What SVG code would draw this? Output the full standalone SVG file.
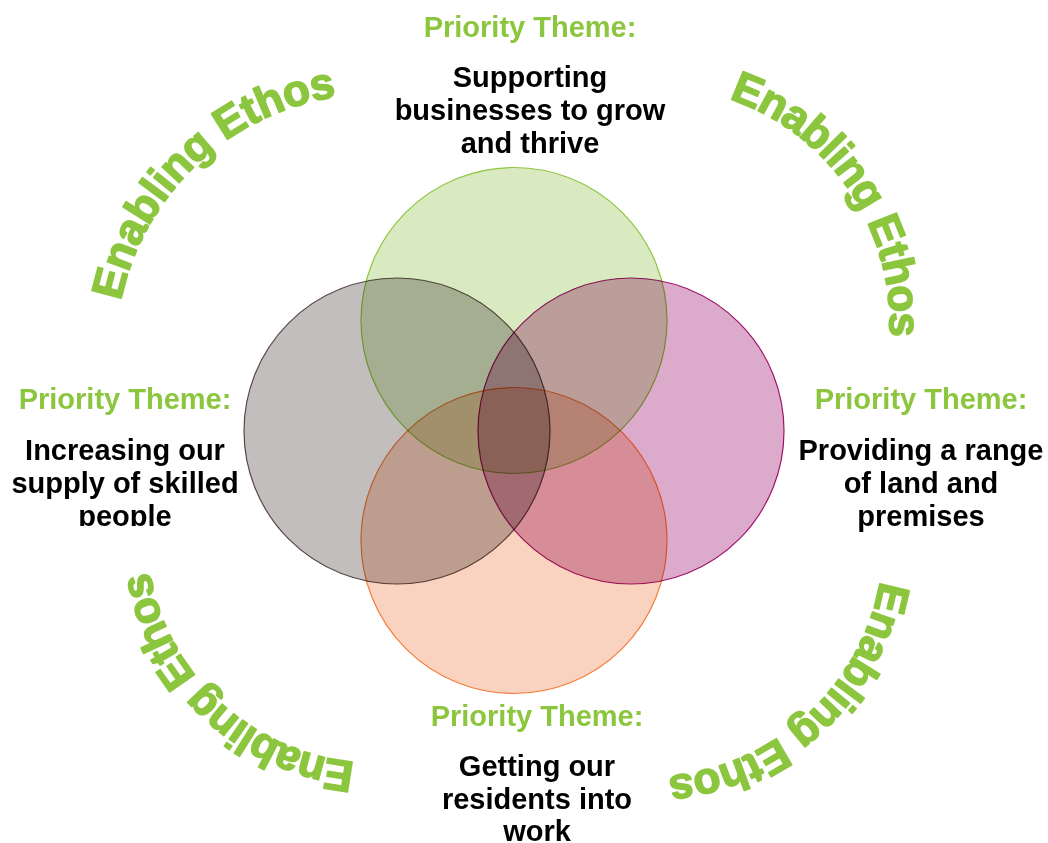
<svg xmlns="http://www.w3.org/2000/svg" width="1048" height="843" viewBox="0 0 1048 843">
  <style>
    .c { mix-blend-mode: multiply; stroke-width: 1.2; }
    .pt { font-family: "Liberation Sans", Arial, sans-serif; font-weight: bold; font-size: 29px; fill: #8cc63f; text-anchor: middle; }
    .bd { font-family: "Liberation Sans", Arial, sans-serif; font-weight: bold; font-size: 29px; fill: #000000; text-anchor: middle; }
    .eth { font-family: "Liberation Sans", Arial, sans-serif; font-weight: bold; font-size: 44px; fill: #8cc63f; stroke: #8cc63f; stroke-width: 1.6; stroke-linejoin: round; }
  </style>
  <defs>
    <path id="arcTL" d="M 121 301 A 259 259 0 0 1 419.6 97.9"/>
    <path id="arcTR" d="M 729 99 A 235.6 235.6 0 0 1 881.6 383"/>
    <path id="arcBR" d="M 880 581 A 236.5 236.5 0 0 1 614.1 774.7"/>
    <path id="arcBL" d="M 355 762 A 229.6 229.6 0 0 1 147.3 513.6"/>
    <clipPath id="clipLeft"><rect x="0" y="370" width="260" height="156"/></clipPath>
  </defs>
  <rect x="0" y="0" width="1048" height="843" fill="#ffffff"/>

  <g id="node-top">
    <circle class="c" cx="514" cy="320.5" r="153" fill="#d9eac1" stroke="#8dc63f"/>
    <text class="pt" x="530" y="37">Priority Theme:</text>
    <text class="bd" x="530" y="87">Supporting</text>
    <text class="bd" x="530" y="120">businesses to grow</text>
    <text class="bd" x="530" y="153">and thrive</text>
  </g>

  <g id="node-right">
    <circle class="c" cx="631" cy="431" r="153" fill="#dcabcb" stroke="#a0136c"/>
    <text class="pt" x="921" y="409">Priority Theme:</text>
    <text class="bd" x="921" y="460">Providing a range</text>
    <text class="bd" x="921" y="493">of land and</text>
    <text class="bd" x="921" y="526">premises</text>
  </g>

  <g id="node-bottom">
    <circle class="c" cx="514" cy="540.5" r="153" fill="#f9d3bf" stroke="#f47d3b"/>
    <text class="pt" x="537" y="726">Priority Theme:</text>
    <text class="bd" x="537" y="776">Getting our</text>
    <text class="bd" x="537" y="809">residents into</text>
    <text class="bd" x="537" y="841">work</text>
  </g>

  <g id="node-left">
    <circle class="c" cx="397" cy="431" r="153" fill="#c2bebe" stroke="#5a4848"/>
    <g clip-path="url(#clipLeft)">
      <text class="pt" x="125" y="409">Priority Theme:</text>
      <text class="bd" x="125" y="460">Increasing our</text>
      <text class="bd" x="125" y="493">supply of skilled</text>
      <text class="bd" x="125" y="526">people</text>
    </g>
  </g>

  <g id="enabling-ethos">
    <text class="eth" textLength="316" lengthAdjust="spacing"><textPath href="#arcTL">Enabling Ethos</textPath></text>
    <text class="eth" textLength="308" lengthAdjust="spacing"><textPath href="#arcTR">Enabling Ethos</textPath></text>
    <text class="eth" textLength="310" lengthAdjust="spacing"><textPath href="#arcBR">Enabling Ethos</textPath></text>
    <text class="eth" textLength="301" lengthAdjust="spacing"><textPath href="#arcBL">Enabling Ethos</textPath></text>
  </g>
</svg>
